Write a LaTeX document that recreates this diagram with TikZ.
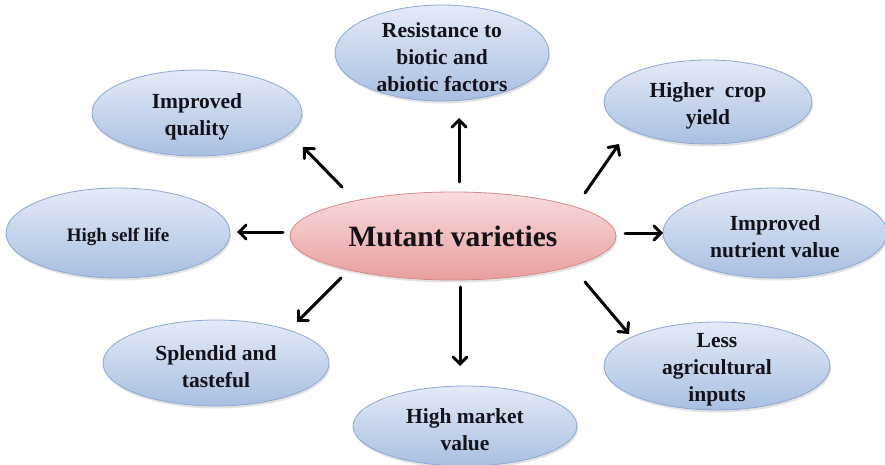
\documentclass[tikz,border=0pt]{standalone}
\usepackage{fontspec}
\setmainfont{Liberation Serif}
\usetikzlibrary{shapes.geometric,arrows.meta,shadows}
\definecolor{blueTop}{HTML}{E3EBF7}
\definecolor{blueBot}{HTML}{A9BFE1}
\definecolor{blueEdge}{HTML}{8DA8D3}
\definecolor{pinkTop}{HTML}{FADCDC}
\definecolor{pinkBot}{HTML}{E99E9E}
\definecolor{pinkEdge}{HTML}{D68A8A}
\definecolor{ink}{HTML}{121218}
\begin{document}
\begin{tikzpicture}[x=1pt,y=-1pt,
  txt/.style={align=center, text=ink, inner sep=0pt,
    font=\fontsize{21.5}{27}\selectfont\bfseries},
  leaf/.style={ellipse, draw=blueEdge, line width=0.8pt,
    top color=blueTop, bottom color=blueBot, inner sep=0pt,
    drop shadow={opacity=0.22, shadow xshift=1pt, shadow yshift=-2.5pt},
    label={[txt, yshift=-4pt]center:#1}},
  hub/.style={ellipse, draw=pinkEdge, line width=0.8pt,
    top color=pinkTop, bottom color=pinkBot, inner sep=0pt,
    drop shadow={opacity=0.22, shadow xshift=1pt, shadow yshift=-2.5pt},
    label={[txt, font=\fontsize{29.5}{34}\selectfont\bfseries]center:#1}},
  arr/.style={line width=3pt, line cap=round,
    -{Straight Barb[length=7pt,width=14pt,line cap=round]}}
]
\useasboundingbox (0,0) rectangle (885,465);
\fill[white] (0,0) rectangle (885,465);

% central idea
\node[hub={Mutant varieties}, minimum width=326pt, minimum height=88pt] (hub) at (453,236) {};

% outcomes around it
\node[leaf={Resistance to\\biotic and\\abiotic factors}, minimum width=214pt, minimum height=96pt] (res) at (442,53) {};
\node[leaf={Improved\\quality}, minimum width=210pt, minimum height=86pt] (qual) at (197,113) {};
\node[leaf={Higher\ \ crop\\yield}, minimum width=208pt, minimum height=84pt] (yield) at (708,102) {};
\node[leaf={\fontsize{19}{24}\selectfont High self life}, minimum width=224pt, minimum height=90pt] (self) at (118,233) {};
\node[leaf={Improved\\nutrient value}, minimum width=224pt, minimum height=90pt] (nutr) at (775,233) {};
\node[leaf={Splendid and\\tasteful}, minimum width=226pt, minimum height=86pt] (tast) at (216,363) {};
\node[leaf={High market\\value}, minimum width=224pt, minimum height=80pt] (mkt) at (465,426) {};
\node[leaf={Less\\agricultural\\inputs}, minimum width=226pt, minimum height=88pt] (less) at (717,366) {};

% arrow ends, kept clear of the ellipse borders
\coordinate (aUs) at (459,182);  \coordinate (aUe) at (459,118);
\coordinate (aULs) at (342,187); \coordinate (aULe) at (303,147);
\coordinate (aURs) at (585,193); \coordinate (aURe) at (619,144);
\coordinate (aLs) at (283,232);  \coordinate (aLe) at (237,232);
\coordinate (aRs) at (625,233);  \coordinate (aRe) at (663,233);
\coordinate (aDLs) at (341,278); \coordinate (aDLe) at (297,322);
\coordinate (aDs) at (460,287);  \coordinate (aDe) at (460,366);
\coordinate (aDRs) at (585,282); \coordinate (aDRe) at (629,334);

\draw[arr] (aUs) -- (aUe);
\draw[arr] (aULs) -- (aULe);
\draw[arr] (aURs) -- (aURe);
\draw[arr] (aLs) -- (aLe);
\draw[arr] (aRs) -- (aRe);
\draw[arr] (aDLs) -- (aDLe);
\draw[arr] (aDs) -- (aDe);
\draw[arr] (aDRs) -- (aDRe);
\end{tikzpicture}
\end{document}
